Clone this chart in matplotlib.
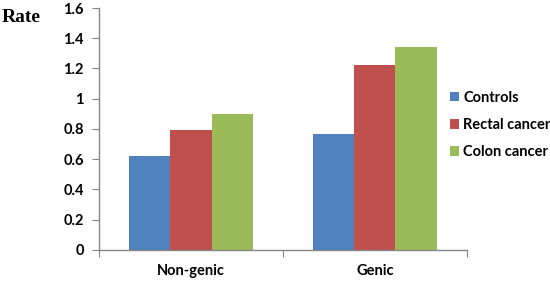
import matplotlib
matplotlib.use('Agg')
import matplotlib.pyplot as plt
import numpy as np

# data
categories = ['Non-genic', 'Genic']
series = ['Controls', 'Rectal cancer', 'Colon cancer']
controls = [0.62, 0.77]
rectal = [0.79, 1.22]
colon = [0.90, 1.34]
colors = ['#4F81BD', '#C0504D', '#9BBB59']
yticks = [0, 0.2, 0.4, 0.6, 0.8, 1, 1.2, 1.4, 1.6]
ytick_labels = ['0', '0.2', '0.4', '0.6', '0.8', '1', '1.2', '1.4', '1.6']

fig = plt.figure(figsize=(5.5, 2.86), dpi=100)
ax = fig.add_axes([0.18, 0.126, 0.669, 0.846])

x = np.arange(len(categories))
w = 0.223
for i, (vals, name) in enumerate(zip([controls, rectal, colon], series)):
	ax.bar(x + (i - 1) * w, vals, w, color=colors[i], label=name)

ax.set_xlim(-0.5, len(categories) - 0.5)
ax.set_ylim(0, 1.6)

axis_col = '#868686'
for s in ['top', 'right']:
	ax.spines[s].set_visible(False)
for s in ['left', 'bottom']:
	ax.spines[s].set_color(axis_col)
	ax.spines[s].set_linewidth(1.0)

font = 'Lato'
fs = 10.5

ax.set_yticks(yticks)
ax.set_yticklabels(ytick_labels, fontfamily=font, fontweight='bold', fontsize=fs)
ax.tick_params(axis='y', length=5, color=axis_col, pad=6)

# category boundary ticks, labels at centres
ax.set_xticks([-0.5, 0.5, 1.5])
ax.set_xticklabels(['', '', ''])
ax.tick_params(axis='x', which='major', length=5, color=axis_col)
ax.set_xticks(x, minor=True)
ax.set_xticklabels(categories, minor=True, fontfamily=font, fontweight='bold', fontsize=fs)
ax.tick_params(axis='x', which='minor', length=0, pad=10)

fig.text(0.003, 0.968, 'Rate', fontfamily='Liberation Serif', fontweight='bold',
		 fontsize=14, va='top', ha='left')

leg = fig.legend(loc='upper left', bbox_to_anchor=(450 / 550, 1 - 91 / 286),
				 bbox_transform=fig.transFigure, frameon=False,
				 prop={'family': font, 'weight': 'bold', 'size': fs},
				 handlelength=0.6, handleheight=0.6, handletextpad=0.3,
				 labelspacing=0.9, borderpad=0, borderaxespad=0)

fig.savefig('out.png', dpi=100)
